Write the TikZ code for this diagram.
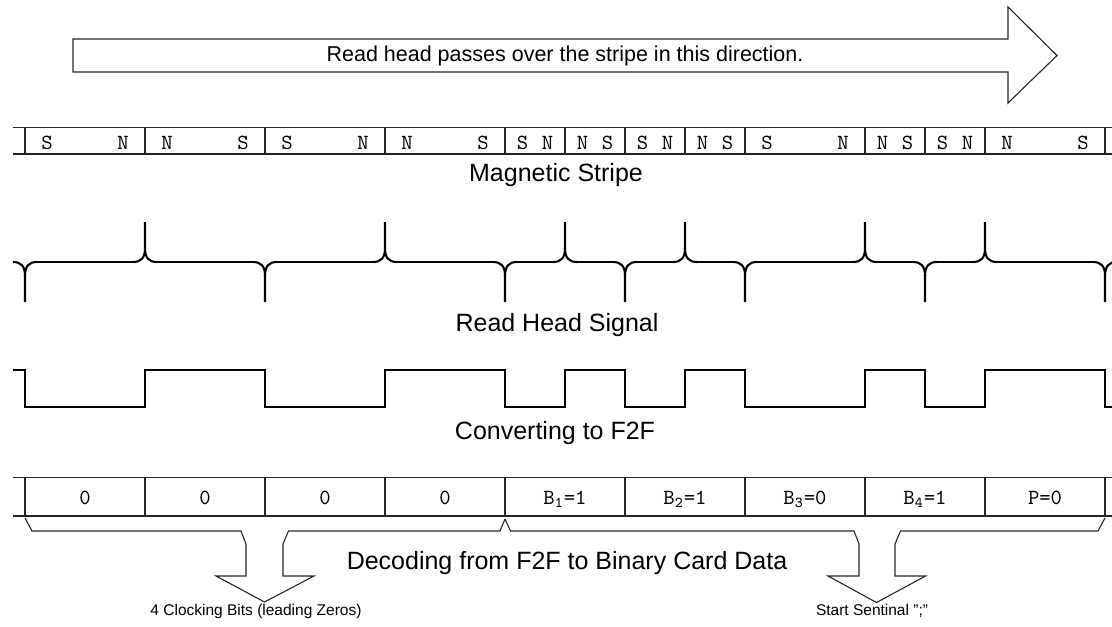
\documentclass[tikz,border=0pt]{standalone}
\usepackage{fontspec}
\setmainfont{Liberation Sans}
\usepackage{tikz}
\usetikzlibrary{calc}
\tikzstyle{outline}=[line width=.55pt, draw=black!85]
\tikzstyle{trace}=[line width=1.05pt, draw=black]
\tikzstyle{caption}=[font=\fontsize{12.5}{15}\selectfont, inner sep=0pt]
\tikzstyle{pole}=[font=\ttfamily\fontsize{10.8}{13}\selectfont, inner sep=0pt, anchor=base]
\tikzstyle{note}=[font=\fontsize{7.75}{9}\selectfont, inner sep=0pt]
% one cusp of the read head signal: x position #1, direction #2 (1 down, -1 up)
\newcommand{\headPeak}[2]{
	\draw[trace] ({#1-12},262) .. controls ({#1-4},262) and (#1,{262+4*#2}) .. (#1,{262+14*#2}) -- (#1,{262+40*#2});
	\draw[trace] ({#1+12},262) .. controls ({#1+4},262) and (#1,{262+4*#2}) .. (#1,{262+14*#2});
}

\begin{document}
\begin{tikzpicture}[x=.5pt,y=-.5pt]
	\useasboundingbox (0,0) rectangle (1112,626);
	% direction arrow
	\draw[outline] (73,39) -- (1008,39) -- (1008,7) -- (1057,55.5) -- (1008,103) -- (1008,72) -- (73,72) -- cycle;
	\node[font=\fontsize{10.75}{13}\selectfont, inner sep=0pt] (dirtext) at (565,55.5) {Read head passes over the stripe in this direction.};
	% magnetic stripe
	\draw[outline] (12.5,127.5) -- (1112,127.5);
	\draw[outline] (12.5,154) -- (1112,154);
	\draw[outline] (25,127.5) -- (25,154);
	\foreach \a/\b/\l/\r in {25/145/S/N,145/265/N/S,265/385/S/N,385/505/N/S,505/565/S/N,565/625/N/S,625/685/S/N,685/745/N/S,745/865/S/N,865/925/N/S,925/985/S/N,985/1105/N/S}
	{
		\pgfmathsetmacro{\off}{(\b-\a>100) ? 22 : 17.5}
		\draw[outline] (\b,127.5) -- (\b,154);
		\node[pole] (pl\a) at ({\a+\off},149) {\l};
		\node[pole] (pr\a) at ({\b-\off},149) {\r};
	}
	\node[caption] (stripe) at (556,175) {Magnetic Stripe};
	% read head signal
	\foreach \x [count=\i, remember=\x as \lastx (initially 1)] in {25,145,265,385,505,565,625,685,745,865,925,985,1105}
	{
		\pgfmathsetmacro{\d}{ifthenelse(mod(\i,2)==1,1,-1)}
		\draw[trace] ({\lastx+12},262) -- ({\x-12},262);
		\headPeak{\x}{\d}
	}
	\node[caption] (signal) at (557,325) {Read Head Signal};
	% F2F
	\draw[trace] (12.5,370) -| (25,407) -| (145,370) -| (265,407) -| (385,370) -| (505,407) -| (565,370) -| (625,407) -| (685,370) -| (745,407) -| (865,370) -| (925,407) -| (985,370) -| (1105,407) -- (1112,407);
	\node[caption] (f2f) at (555,433) {Converting to F2F};
	% bits
	\draw[outline] (12.5,477.5) -- (1112,477.5);
	\draw[outline] (12.5,516) -- (1112,516);
	\draw[outline] (25,477.5) -- (25,516);
	\foreach \a/\txt in {25/0,145/0,265/0,385/0,505/{B\textsubscript{1}=1},625/{B\textsubscript{2}=1},745/{B\textsubscript{3}=0},865/{B\textsubscript{4}=1},985/{P=0}}
	{
		\draw[outline] ({\a+120},477.5) -- ({\a+120},516);
		\node[pole] (bit\a) at ({\a+60},504.5) {\txt};
	}
	% braces with arrows
	\draw[outline] (25,518) -- (32,531) -- (241,531) -- (246,544) -- (246,576) -- (216,576) -- (264.5,602) -- (314,576) -- (283,576) -- (283,544) -- (288.5,531) -- (500,531) -- (505,519);
	\draw[outline] (505,519) -- (510.5,531) -- (854,531) -- (859,544) -- (859,576) -- (828,576) -- (876.5,602.5) -- (925.5,576) -- (895,576) -- (895,544) -- (900.5,531) -- (1098,531) -- (1105,518);
	\node[caption] (decode) at (567,563.5) {Decoding from F2F to Binary Card Data};
	\node[note] (clocking) at (256,611) {4 Clocking Bits (leading Zeros)};
	\node[note] (sentinel) at (872,611) {Start Sentinal ";"};
\end{tikzpicture}
\end{document}
